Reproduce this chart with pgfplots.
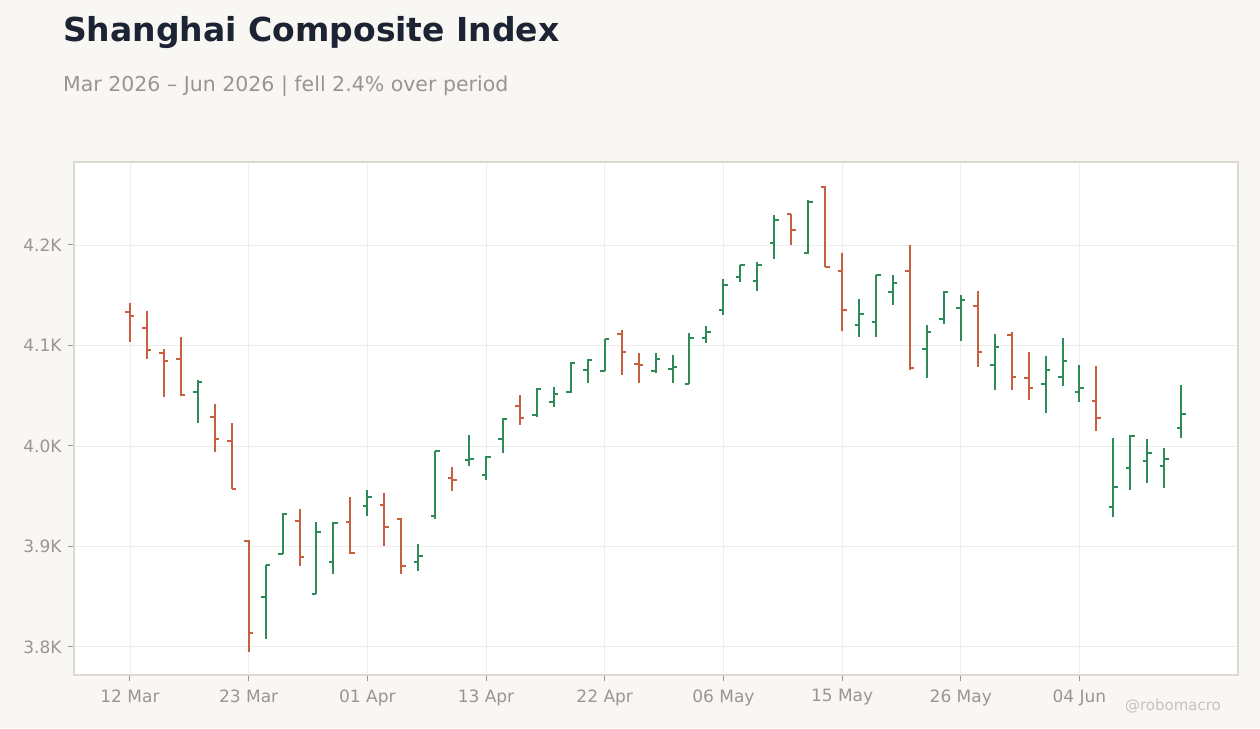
\documentclass[border=0pt]{standalone}
\usepackage{fontspec}
\setmainfont{DejaVu Sans}
\usepackage{pgfplots}
\usepackage{pgfplotstable}
\pgfplotsset{compat=1.18}
\definecolor{bgc}{HTML}{F8F7F4}
\definecolor{titlec}{HTML}{1C2433}
\definecolor{subc}{HTML}{9A9590}
\definecolor{labelc}{HTML}{9A9590}
\definecolor{wmc}{HTML}{C5C2BD}
\definecolor{gridc}{HTML}{EEEDEB}
\definecolor{axisc}{HTML}{DCD8D2}
\definecolor{downc}{HTML}{C8603F}
\definecolor{upc}{HTML}{2E8B57}
\pgfdeclareplotmark{lefttick}{\pgfpathmoveto{\pgfpoint{-\pgfplotmarksize}{0pt}}\pgfpathlineto{\pgfpointorigin}\pgfusepathqstroke}
\pgfdeclareplotmark{righttick}{\pgfpathmoveto{\pgfpointorigin}\pgfpathlineto{\pgfpoint{\pgfplotmarksize}{0pt}}\pgfusepathqstroke}
\pgfplotstableread{
x o h l c
4 4054.0 4065.7 4023.2 4064.0
8 3850.1 3881.9 3808.3 3881.5
9 3892.5 3933.0 3892.0 3932.5
11 3852.7 3924.1 3852.2 3914.8
12 3884.9 3924.1 3872.9 3923.6
14 3940.6 3956.2 3930.7 3949.6
17 3884.9 3902.5 3875.9 3890.9
18 3930.7 3995.4 3927.1 3995.0
20 3985.5 4010.9 3980.4 3987.0
21 3971.5 3990.4 3966.5 3989.4
22 4007.3 4027.5 3993.3 4027.2
24 4031.2 4057.4 4029.2 4056.4
25 4044.1 4058.7 4039.1 4051.7
26 4054.0 4083.3 4052.4 4083.0
27 4075.6 4086.3 4063.0 4085.9
28 4074.9 4106.5 4074.6 4106.2
31 4074.9 4092.5 4072.3 4086.6
32 4076.9 4090.5 4063.0 4078.9
33 4062.0 4112.1 4061.4 4107.8
34 4107.8 4119.4 4102.0 4113.0
35 4135.6 4166.2 4130.6 4160.5
36 4168.5 4180.4 4163.5 4180.0
37 4164.5 4182.8 4154.5 4180.1
38 4202.3 4229.9 4186.4 4225.2
40 4192.3 4244.5 4191.3 4243.1
43 4120.7 4146.3 4108.8 4131.6
44 4123.7 4170.5 4108.8 4170.2
45 4153.5 4170.1 4140.6 4162.5
47 4096.8 4120.2 4068.0 4113.7
48 4126.7 4154.0 4120.9 4153.3
49 4137.6 4150.3 4104.8 4145.6
51 4080.9 4111.4 4056.0 4098.8
54 4062.0 4089.6 4033.1 4075.9
55 4069.0 4107.5 4060.0 4084.9
56 4054.0 4080.6 4044.1 4058.0
58 3939.6 4007.9 3929.1 3959.5
59 3978.4 4010.6 3956.6 4010.3
60 3985.4 4007.0 3963.5 3993.3
61 3980.4 3998.0 3958.5 3987.4
62 4018.2 4060.7 4008.3 4032.1
}\upbars
\pgfplotstableread{
x o h l c
0 4133.6 4142.0 4103.8 4129.7
1 4117.7 4134.3 4086.9 4095.5
2 4092.8 4096.2 4049.1 4084.9
3 4086.9 4108.2 4049.8 4050.5
5 4029.2 4041.8 3994.3 4006.9
6 4005.3 4022.6 3956.9 3957.5
7 3905.8 3906.5 3795.3 3814.2
10 3925.7 3937.3 3880.6 3889.9
13 3924.7 3949.3 3892.5 3893.0
15 3941.6 3953.2 3900.8 3919.4
16 3927.7 3928.7 3872.3 3880.9
19 3968.5 3979.1 3955.6 3966.2
23 4040.1 4050.8 4021.2 4028.2
29 4111.7 4115.4 4070.9 4093.5
30 4081.9 4092.5 4062.4 4080.9
39 4230.5 4230.8 4200.3 4214.9
41 4257.4 4258.7 4177.8 4178.1
42 4174.4 4192.0 4114.7 4135.6
46 4174.4 4200.0 4075.3 4077.9
50 4139.6 4154.2 4078.3 4093.8
52 4110.8 4113.4 4056.0 4069.0
53 4068.0 4093.5 4046.1 4058.0
57 4045.1 4079.6 4015.2 4028.2
}\downbars
\begin{document}
\begin{tikzpicture}[x=1pt,y=1pt]
\fill[bgc] (0,0) rectangle (1260,728);
\node[anchor=base west, inner sep=0pt, text=titlec, font=\fontsize{33}{40}\selectfont\bfseries] at (63,686) {Shanghai Composite Index};
\node[anchor=base west, inner sep=0pt, text=subc, font=\fontsize{20.5}{24}\selectfont] at (63,636) {Mar 2026 – Jun 2026 | fell 2.4\% over period};
\node[anchor=base east, inner sep=0pt, text=wmc, font=\fontsize{15}{18}\selectfont] at (1221,18) {@robomacro};
\begin{axis}[
  at={(74pt,53pt)}, anchor=south west, scale only axis,
  width=1164pt, height=513pt,
  xmin=-3.3, xmax=65.35, ymin=3772, ymax=4282.6,
  xtick={0,7,14,21,28,35,42,49,56},
  xticklabels={12 Mar,23 Mar,01 Apr,13 Apr,22 Apr,06 May,15 May,26 May,04 Jun},
  ytick={3800,3900,4000,4100,4200},
  yticklabels={3.8K,3.9K,4.0K,4.1K,4.2K},
  tick pos=left, tick align=outside, major tick length=6pt,
  grid=major, major grid style={draw=gridc, line width=0.8pt},
  axis line style={draw=axisc, line width=1.2pt},
  tick style={draw=labelc, line width=1pt},
  tick label style={font=\fontsize{17}{20}\selectfont, text=labelc},
  xticklabel style={yshift=-5pt},
  yticklabel style={xshift=-3pt},
  axis background/.style={fill=white},
]
\addplot[draw=none, no markers, forget plot, error bars/.cd, y dir=both, y explicit, error mark=none,
  error bar style={draw=upc, line width=2pt}]
  table[x=x, y expr=(\thisrow{h}+\thisrow{l})/2, y error expr=(\thisrow{h}-\thisrow{l})/2] {\upbars};
\addplot[only marks, mark=lefttick, mark size=4.5pt, draw=upc, line width=2pt] table[x=x, y=o] {\upbars};
\addplot[only marks, mark=righttick, mark size=4.5pt, draw=upc, line width=2pt] table[x=x, y=c] {\upbars};
\addplot[draw=none, no markers, forget plot, error bars/.cd, y dir=both, y explicit, error mark=none,
  error bar style={draw=downc, line width=2pt}]
  table[x=x, y expr=(\thisrow{h}+\thisrow{l})/2, y error expr=(\thisrow{h}-\thisrow{l})/2] {\downbars};
\addplot[only marks, mark=lefttick, mark size=4.5pt, draw=downc, line width=2pt] table[x=x, y=o] {\downbars};
\addplot[only marks, mark=righttick, mark size=4.5pt, draw=downc, line width=2pt] table[x=x, y=c] {\downbars};
\end{axis}
\end{tikzpicture}
\end{document}
